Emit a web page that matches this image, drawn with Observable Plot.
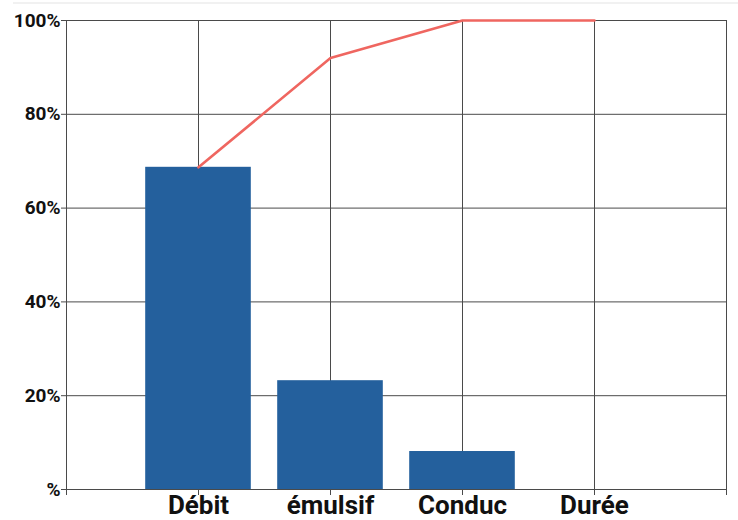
<!DOCTYPE html>
<html>
<head>
<meta charset="utf-8">
<script src="https://cdn.jsdelivr.net/npm/d3@7"></script>
<script src="https://cdn.jsdelivr.net/npm/@observablehq/plot@0.6"></script>
<style>
  html, body { margin: 0; padding: 0; background: #fff; }
  #wrap { position: relative; width: 738px; height: 520px; }
  #topline { position: absolute; top: 2px; left: 13px; right: 0; border-top: 2px solid #f1f1f1; }
  #chart svg { display: block; overflow: visible; }
</style>
</head>
<body>
<div id="wrap">
  <div id="topline"></div>
  <div id="chart"></div>
</div>
<script>
// Pareto: share of each factor (bars) and running total (line), in %
const categories = ["Débit", "émulsif", "Conduc", "Durée"];
const shares = [68.7, 23.2, 8.1, 0];
const cumulative = [68.7, 92.0, 100, 100];
const yTicks = [0, 20, 40, 60, 80, 100];
const yTickLabels = ["%", "20%", "40%", "60%", "80%", "100%"];

// categories sit on integer positions 1..4, with empty slots at 0 and 5
const rows = categories.map((name, i) => ({
  name, pos: i + 1, share: shares[i], cum: cumulative[i]
}));
const xTicks = d3.range(0, categories.length + 2);

const gridColor = "#4a4a4a";
const font = "Roboto, 'Noto Sans', sans-serif";

const chart = Plot.plot({
  width: 738,
  height: 520,
  marginLeft: 66,
  marginRight: 12,
  marginTop: 20,
  marginBottom: 31,
  style: { fontFamily: font, background: "transparent" },
  x: { domain: [0, categories.length + 1] },
  y: { domain: [0, 100] },
  marks: [
    Plot.ruleY(yTicks, { stroke: gridColor, strokeWidth: 1 }),
    Plot.ruleX(xTicks, { stroke: gridColor, strokeWidth: 1 }),
    Plot.rectY(rows, {
      x1: d => d.pos - 0.4,
      x2: d => d.pos + 0.4,
      y1: 0,
      y2: "share",
      fill: "#24609d"
    }),
    Plot.line(rows, {
      x: "pos", y: "cum",
      stroke: "#ef6660", strokeWidth: 2.6, strokeLinejoin: "round"
    }),
    Plot.axisY({
      ticks: yTicks,
      tickFormat: d => yTickLabels[yTicks.indexOf(d)],
      tickSize: 5,
      tickPadding: 1,
      stroke: gridColor,
      fill: "#111",
      fontSize: 19,
      fontWeight: "bold",
      label: null
    }),
    Plot.axisX({
      ticks: xTicks,
      tickFormat: d => (d >= 1 && d <= categories.length) ? categories[d - 1] : "",
      tickSize: 6,
      tickPadding: 0,
      stroke: gridColor,
      fill: "#111",
      fontSize: 26,
      fontWeight: "bold",
      label: null
    })
  ]
});

document.getElementById("chart").appendChild(chart);
</script>
</body>
</html>
